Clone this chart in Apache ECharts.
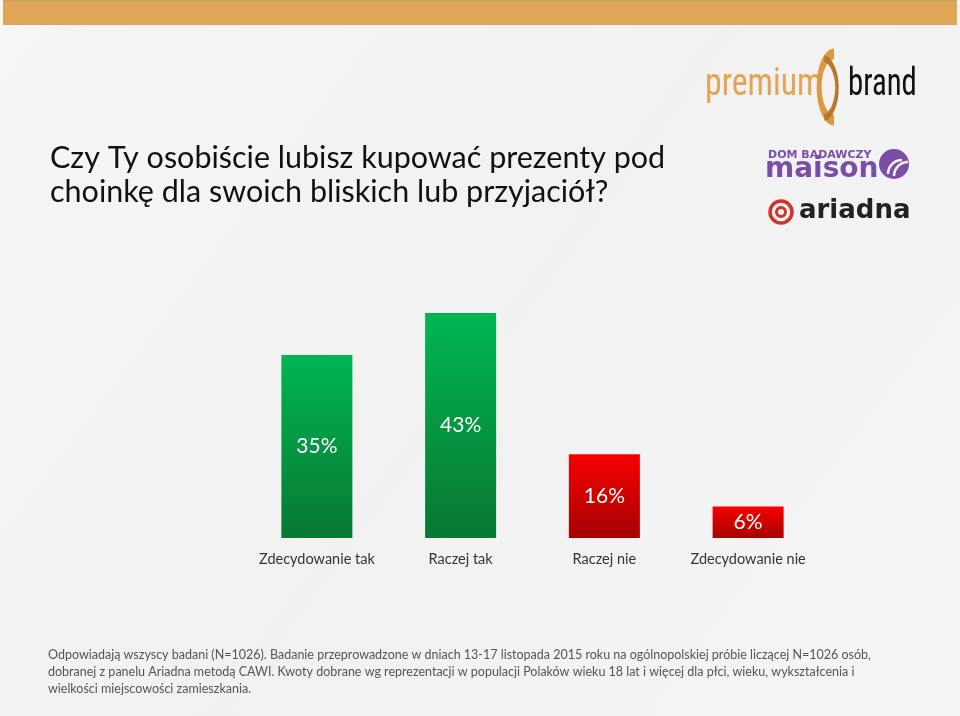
<!DOCTYPE html>
<html>
<head>
<meta charset="utf-8">
<script src="https://cdn.jsdelivr.net/npm/echarts@6/dist/echarts.min.js"></script>
<style>
html,body{margin:0;padding:0;background:#f3f3f3;}
#c{width:960px;height:716px;}
</style>
</head>
<body>
<div id="c"></div>
<script>
const categories = ['Zdecydowanie tak', 'Raczej tak', 'Raczej nie', 'Zdecydowanie nie'];
const values = [35, 43, 16, 6];
const valueLabels = ['35%', '43%', '16%', '6%'];
const titleLines = ['Czy Ty osobiście lubisz kupować prezenty pod', 'choinkę dla swoich bliskich lub przyjaciół?'];
const footLines = [
  'Odpowiadają wszyscy badani (N=1026). Badanie przeprowadzone w dniach 13-17 listopada 2015 roku na ogólnopolskiej próbie liczącej N=1026 osób,',
  'dobranej z panelu Ariadna metodą CAWI. Kwoty dobrane wg reprezentacji w populacji Polaków wieku 18 lat i więcej dla płci, wieku, wykształcenia i',
  'wielkości miejscowości zamieszkania.'
];

const FONT = 'Lato, "Open Sans", sans-serif';
const NARROW = '"Liberation Sans Narrow", "Roboto Condensed", sans-serif';
const green = new echarts.graphic.LinearGradient(0,0,0,1,[{offset:0,color:'#00b652'},{offset:1,color:'#0a7733'}]);
const red = new echarts.graphic.LinearGradient(0,0,0,1,[{offset:0,color:'#f80000'},{offset:1,color:'#a50202'}]);
const barFills = [green, green, red, red];

const chart = echarts.init(document.getElementById('c'), null, {renderer:'canvas'});
chart.setOption({
  backgroundColor: new echarts.graphic.LinearGradient(0,0,1,1,[{offset:0,color:'#f6f6f6'},{offset:0.5,color:'#f1f1f1'},{offset:1,color:'#f5f5f5'}]),
  animation: false,
  grid: {left: 245, right: 140, top: 276.5, bottom: 178},
  xAxis: {
    type: 'category', data: categories,
    axisLine:{show:false}, axisTick:{show:false},
    axisLabel:{color:'#333', fontSize:14.5, fontFamily:FONT, margin:14, interval:0}
  },
  yAxis: {type:'value', min:0, max:50, show:false, splitLine:{show:false}},
  series: [{
    type:'bar', barWidth: 71,
    data: values.map((v,i)=>({value:v, itemStyle:{color:barFills[i]}})),
    label:{show:true, position:'inside', color:'#fff', fontSize:21, fontFamily:FONT,
      formatter: p => valueLabels[p.dataIndex]}
  }],
  graphic: [
    {type:'rect', shape:{x:3,y:0,width:954,height:25}, style:{fill:'#dfa658'}},
    {type:'rect', shape:{x:3,y:0,width:954,height:1.5}, style:{fill:'#c9a45a'}},
    {type:'text', x:50, y:141, style:{text:titleLines.join('\n'), fill:'#111', font:'30.5px '+FONT, lineHeight:34}},
    {type:'text', x:48, y:646, style:{text:footLines.join('\n'), fill:'#555', font:'12.5px '+FONT, lineHeight:17}},
    // premium brand logo
    {type:'text', x:705, y:66, scaleX:0.89, style:{text:'premium', fill:'#e2a552', font:'38px '+NARROW}},
    {type:'text', x:848, y:66, scaleX:0.81, style:{text:'brand', fill:'#111', font:'38px '+NARROW}},
    {type:'arc', shape:{cx:0, cy:0, r:33, startAngle:Math.PI*0.5, endAngle:Math.PI*1.5}, x:834, y:87, scaleX:0.45, style:{stroke:'#dc9a40', lineWidth:11, fill:null}},
    {type:'arc', shape:{cx:0, cy:0, r:30, startAngle:-Math.PI*0.45, endAngle:Math.PI*0.45}, x:822, y:88, scaleX:0.5, style:{stroke:'#b8782a', lineWidth:7, fill:null}},
    // maison logo
    {type:'text', x:768, y:150, style:{text:'DOM BADAWCZY', fill:'#7a4ea8', font:'bold 11px "DejaVu Sans", sans-serif'}},
    {type:'text', x:765, y:156, style:{text:'maison', fill:'#7a4ea8', font:'bold 28px "DejaVu Sans", sans-serif'}},
    {type:'circle', shape:{cx:894, cy:164, r:15}, style:{fill:'#7a4ea8'}},
    {type:'arc', shape:{cx:902, cy:174, r:14, startAngle:Math.PI, endAngle:Math.PI*1.5}, style:{stroke:'#f3f3f3', lineWidth:2.5, fill:null}},
    {type:'arc', shape:{cx:908, cy:176, r:14, startAngle:Math.PI, endAngle:Math.PI*1.5}, style:{stroke:'#f3f3f3', lineWidth:2.5, fill:null}},
    // ariadna logo
    {type:'circle', shape:{cx:781, cy:212, r:11}, style:{fill:null, stroke:'#d1322b', lineWidth:3.5}},
    {type:'circle', shape:{cx:781, cy:212, r:4.5}, style:{fill:null, stroke:'#d1322b', lineWidth:3}},
    {type:'text', x:799, y:198, style:{text:'ariadna', fill:'#222', font:'bold 26px "DejaVu Sans", sans-serif'}}
  ]
});
</script>
</body>
</html>
